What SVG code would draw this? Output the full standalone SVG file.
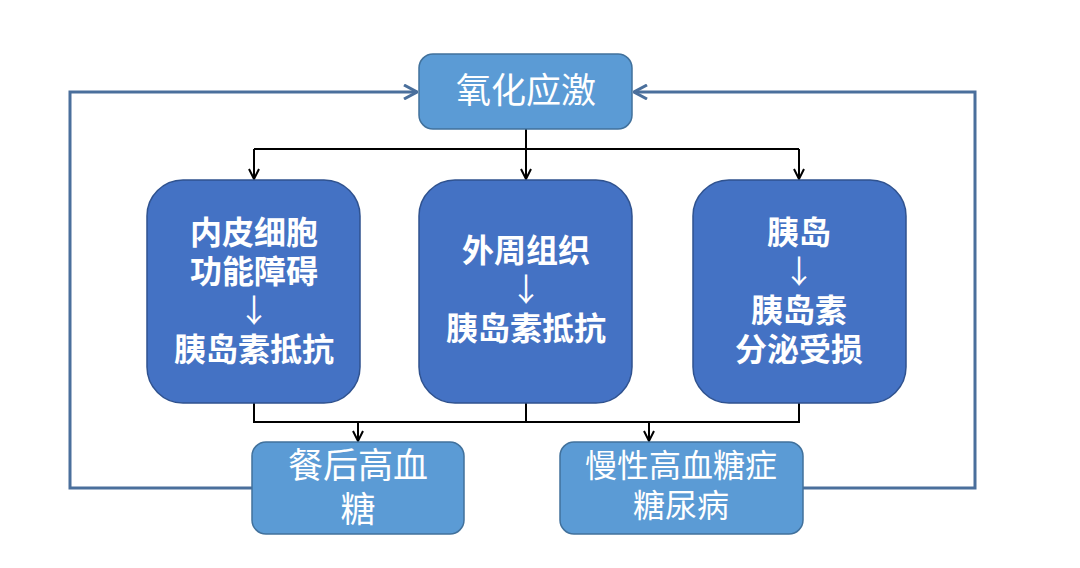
<svg xmlns="http://www.w3.org/2000/svg" width="1080" height="568" viewBox="0 0 1080 568">
<defs>
<marker id="ab" viewBox="0 0 12 12" refX="11" refY="6" markerWidth="12" markerHeight="12" markerUnits="userSpaceOnUse" orient="auto">
<path d="M1,1 L11,6 L1,11" fill="none" stroke="#000" stroke-width="2"/>
</marker>
<marker id="ag" viewBox="0 0 16 16" refX="15" refY="8" markerWidth="16" markerHeight="16" markerUnits="userSpaceOnUse" orient="auto">
<path d="M2,1 L15,8 L2,15" fill="none" stroke="#4a6f9c" stroke-width="3"/>
</marker>
</defs>
<style>
.light{fill:#5b9bd5;stroke:#41719c;stroke-width:1.5}
.dark{fill:#4472c4;stroke:#2f528f;stroke-width:1.5}
.t{font-family:"Noto Sans CJK SC","Noto Sans",sans-serif;fill:#fff;text-anchor:middle}
.tb{font-size:32px;font-weight:bold}
.ar{font-weight:normal}
.tl{font-size:35px}
.tr{font-size:32px}
.c{fill:none;stroke:#000;stroke-width:2}
.f{fill:none;stroke:#4a6f9c;stroke-width:3}
</style>
<rect width="1080" height="568" fill="#fff"/>
<g id="connectors">
<path class="c" d="M526,129 V149"/>
<path class="c" d="M254,149 H799"/>
<path class="c" d="M254,149 V179" marker-end="url(#ab)"/>
<path class="c" d="M526,149 V179" marker-end="url(#ab)"/>
<path class="c" d="M799,149 V179" marker-end="url(#ab)"/>
<path class="c" d="M254,403 V422 H799 V403"/>
<path class="c" d="M526,403 V422"/>
<path class="c" d="M358,422 V441" marker-end="url(#ab)"/>
<path class="c" d="M649,422 V441" marker-end="url(#ab)"/>
<path class="f" d="M252,488 H70 V92 H417" marker-end="url(#ag)"/>
<path class="f" d="M803,488 H975 V92 H634" marker-end="url(#ag)"/>
</g>
<g id="n-oxidative">
<rect class="light" x="419" y="54" width="213" height="75" rx="14"/>
<text class="t tl" x="526" y="103">氧化应激</text>
</g>
<g id="n-endothelial">
<rect class="dark" x="147" y="180" width="213" height="223" rx="36"/>
<text class="t tb" x="254" y="244">内皮细胞<tspan x="254" dy="39">功能障碍</tspan><tspan class="ar" x="254" dy="39">↓</tspan><tspan x="254" dy="39">胰岛素抵抗</tspan></text>
</g>
<g id="n-peripheral">
<rect class="dark" x="419" y="180" width="213" height="223" rx="36"/>
<text class="t tb" x="526" y="262">外周组织<tspan class="ar" x="526" dy="39">↓</tspan><tspan x="526" dy="39">胰岛素抵抗</tspan></text>
</g>
<g id="n-islet">
<rect class="dark" x="693" y="180" width="213" height="223" rx="36"/>
<text class="t tb" x="799" y="244">胰岛<tspan class="ar" x="799" dy="39">↓</tspan><tspan x="799" dy="39">胰岛素</tspan><tspan x="799" dy="39">分泌受损</tspan></text>
</g>
<g id="n-postprandial">
<rect class="light" x="252" y="442" width="212" height="92" rx="14"/>
<text class="t tl" x="358" y="478">餐后高血<tspan x="358" dy="44">糖</tspan></text>
</g>
<g id="n-chronic">
<rect class="light" x="560" y="442" width="243" height="92" rx="14"/>
<text class="t tr" x="681" y="477">慢性高血糖症<tspan x="681" dy="40">糖尿病</tspan></text>
</g>
</svg>
